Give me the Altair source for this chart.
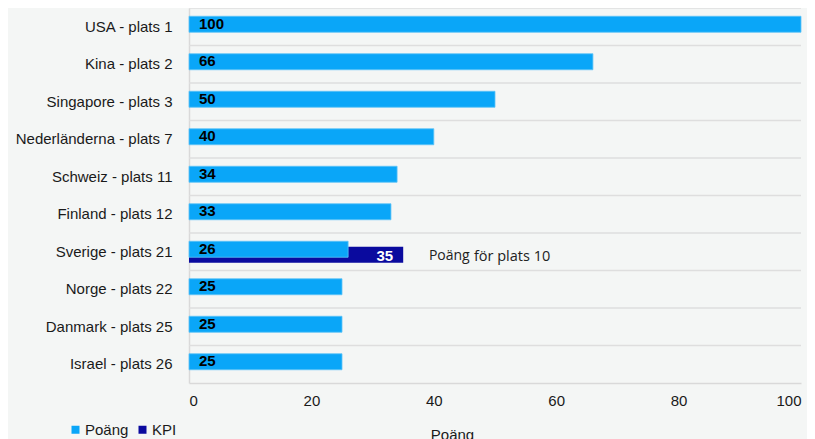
import altair as alt
import pandas as pd

countries = ["USA - plats 1", "Kina - plats 2", "Singapore - plats 3",
             "Nederländerna - plats 7", "Schweiz - plats 11", "Finland - plats 12",
             "Sverige - plats 21", "Norge - plats 22", "Danmark - plats 25",
             "Israel - plats 26"]
poang = [100, 66, 50, 40, 34, 33, 26, 25, 25, 25]
kpi_country = ["Sverige - plats 21"]
kpi_value = [35]
series = ["Poäng", "KPI"]
colors = ["#0aa6f8", "#0a0a9e"]
x_ticks = [0, 20, 40, 60, 80, 100]
annot_x = [39.2]
annot_main = ["Poäng"]
annot_sub = ["för plats 10"]

df = pd.DataFrame({"land": countries, "varde": poang, "serie": "Poäng"})
dk = pd.DataFrame({"land": kpi_country, "varde": kpi_value, "serie": "KPI"})
da = pd.DataFrame({"land": kpi_country, "x": annot_x, "t1": annot_main, "t2": annot_sub})

FS = 15
yenc = alt.Y("land:N", sort=countries,
             scale=alt.Scale(domain=countries, paddingInner=0, paddingOuter=0),
             axis=alt.Axis(title=None, ticks=False, domain=True, domainColor="#d9d9d9",
                           domainWidth=1.5, labelFontSize=FS, labelColor="#1a1a1a",
                           labelPadding=17, grid=False, labelFont="Liberation Sans"))
xscale = alt.Scale(domain=[0, 100], nice=False)
xenc = alt.X("varde:Q", scale=xscale,
             axis=alt.Axis(title="Poäng", values=x_ticks, grid=False, ticks=False,
                           domain=True, domainColor="#d9d9d9", domainWidth=1.5,
                           labelFontSize=FS, labelColor="#1a1a1a", labelPadding=10,
                           labelFont="Liberation Sans",
                           titleFontSize=FS, titleFontWeight="normal", titleColor="#1a1a1a",
                           titleFont="Liberation Sans",
                           titleX=263, titleY=44, titleBaseline="top"))
cenc = alt.Color("serie:N", scale=alt.Scale(domain=series, range=colors),
                 legend=alt.Legend(title=None, orient="none", direction="horizontal",
                                   legendX=-121, legendY=414, symbolType="square",
                                   symbolSize=64, symbolStrokeWidth=0,
                                   labelFontSize=FS, labelColor="#1a1a1a",
                                   labelFont="Liberation Sans", columnPadding=6,
                                   labelOffset=2))

grid = alt.Chart(df).mark_rule(color="#dedede", strokeWidth=1.5).encode(
    y=alt.Y("land:N", sort=countries, bandPosition=0),
    x=alt.value(0), x2=alt.value(612))

kpi = alt.Chart(dk).mark_bar(size=16, yOffset=3).encode(
    y=alt.Y("land:N", sort=countries), x=alt.X("varde:Q", scale=xscale), color=cenc)

bars = alt.Chart(df).mark_bar(size=16, yOffset=-2.5, stroke="#5ec4f7", strokeWidth=0.8).encode(
    y=yenc, x=xenc, color=cenc)

lab = alt.Chart(df).mark_text(align="left", baseline="middle", dx=10, yOffset=-3,
                              fontWeight="bold", fontSize=FS, color="#000000",
                              font="Liberation Sans").encode(
    y=alt.Y("land:N", sort=countries), x=alt.datum(0), text="varde:Q")

klab = alt.Chart(dk).mark_text(align="right", baseline="middle", dx=-10, yOffset=4,
                               fontWeight="bold", fontSize=FS, color="#ffffff",
                               font="Liberation Sans").encode(
    y=alt.Y("land:N", sort=countries), x=alt.X("varde:Q", scale=xscale), text="varde:Q")

ann1 = alt.Chart(da).mark_text(align="left", baseline="middle", yOffset=4, fontSize=14,
                               color="#222222", font="Open Sans").encode(
    y=alt.Y("land:N", sort=countries), x=alt.X("x:Q", scale=xscale), text="t1:N")
ann2 = alt.Chart(da).mark_text(align="left", baseline="middle", yOffset=5, dx=45, fontSize=14.5,
                               color="#222222", font="Open Sans").encode(
    y=alt.Y("land:N", sort=countries), x=alt.X("x:Q", scale=xscale), text="t2:N")

chart = alt.layer(grid, kpi, bars, lab, klab, ann1, ann2).properties(
    width=612, height=375,
    autosize=alt.AutoSizeParams(type="none"),
    padding={"left": 181, "top": 0, "right": 6, "bottom": 56},
    background="#f4f6f5",
).configure_view(stroke=None)

chart.save("out.html", embed_options={"renderer": "svg", "actions": False})
